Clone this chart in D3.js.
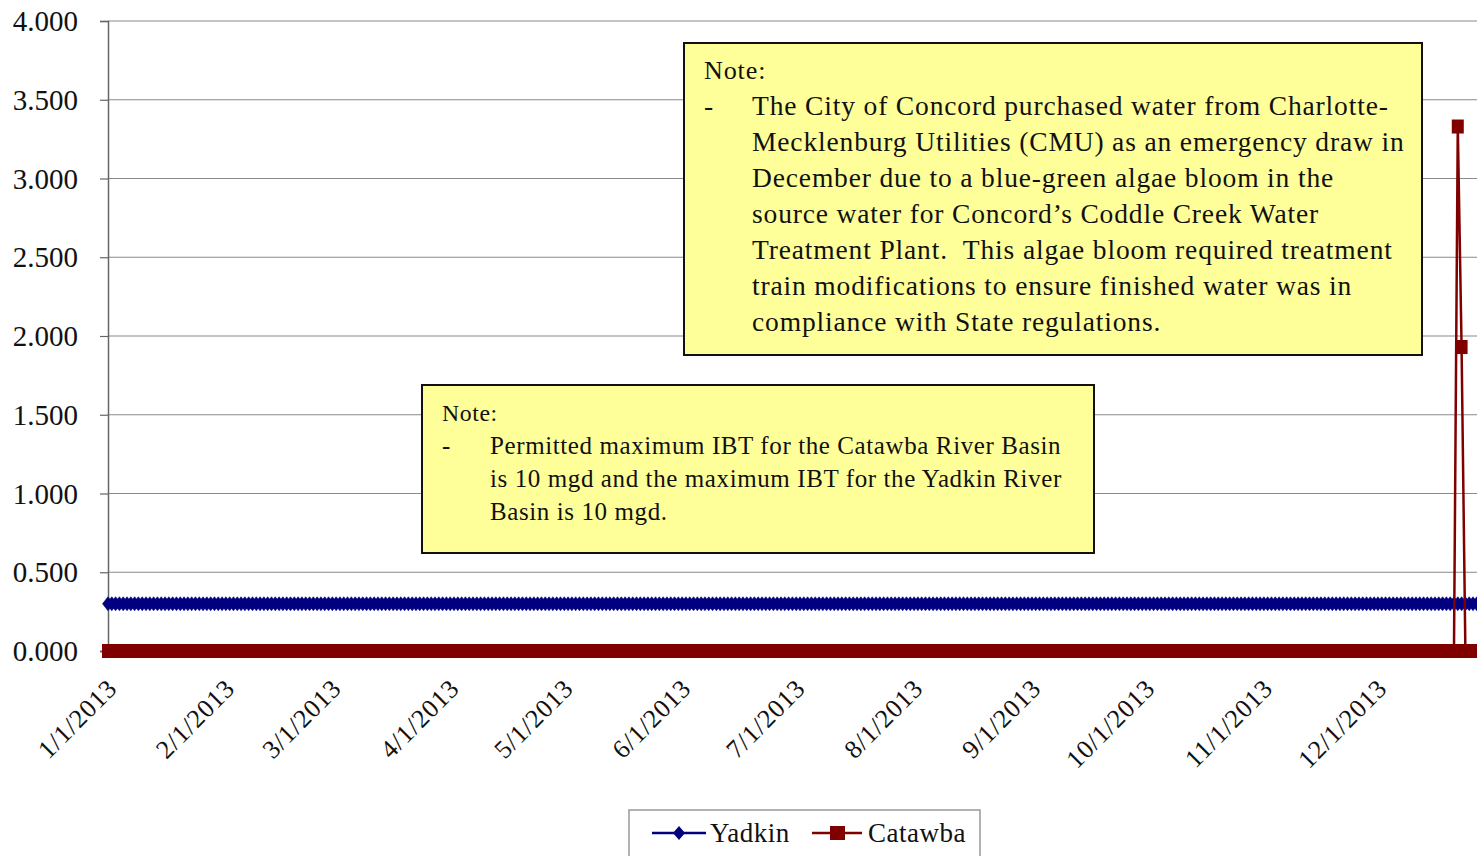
<!DOCTYPE html>
<html>
<head>
<meta charset="utf-8">
<script src="https://cdn.jsdelivr.net/npm/d3@7.9.0/dist/d3.min.js"></script>
<style>
  html, body { margin: 0; padding: 0; background: #fff; }
  svg { display: block; }
  text { font-family: "Book Antiqua", "Palatino Linotype", "Liberation Serif", serif; fill: #111; white-space: pre; }
</style>
</head>
<body>
<svg id="chart" width="1477" height="856"></svg>
<script>
// daily IBT values (mgd) for 2013, one row per month
const startDate = "2013-01-01";

const yadkin = [
  0.3,0.3,0.3,0.3,0.3,0.3,0.3,0.3,0.3,0.3,0.3,0.3,0.3,0.3,0.3,0.3,0.3,0.3,0.3,0.3,0.3,0.3,0.3,0.3,0.3,0.3,0.3,0.3,0.3,0.3,0.3,
  0.3,0.3,0.3,0.3,0.3,0.3,0.3,0.3,0.3,0.3,0.3,0.3,0.3,0.3,0.3,0.3,0.3,0.3,0.3,0.3,0.3,0.3,0.3,0.3,0.3,0.3,0.3,0.3,
  0.3,0.3,0.3,0.3,0.3,0.3,0.3,0.3,0.3,0.3,0.3,0.3,0.3,0.3,0.3,0.3,0.3,0.3,0.3,0.3,0.3,0.3,0.3,0.3,0.3,0.3,0.3,0.3,0.3,0.3,0.3,
  0.3,0.3,0.3,0.3,0.3,0.3,0.3,0.3,0.3,0.3,0.3,0.3,0.3,0.3,0.3,0.3,0.3,0.3,0.3,0.3,0.3,0.3,0.3,0.3,0.3,0.3,0.3,0.3,0.3,0.3,
  0.3,0.3,0.3,0.3,0.3,0.3,0.3,0.3,0.3,0.3,0.3,0.3,0.3,0.3,0.3,0.3,0.3,0.3,0.3,0.3,0.3,0.3,0.3,0.3,0.3,0.3,0.3,0.3,0.3,0.3,0.3,
  0.3,0.3,0.3,0.3,0.3,0.3,0.3,0.3,0.3,0.3,0.3,0.3,0.3,0.3,0.3,0.3,0.3,0.3,0.3,0.3,0.3,0.3,0.3,0.3,0.3,0.3,0.3,0.3,0.3,0.3,
  0.3,0.3,0.3,0.3,0.3,0.3,0.3,0.3,0.3,0.3,0.3,0.3,0.3,0.3,0.3,0.3,0.3,0.3,0.3,0.3,0.3,0.3,0.3,0.3,0.3,0.3,0.3,0.3,0.3,0.3,0.3,
  0.3,0.3,0.3,0.3,0.3,0.3,0.3,0.3,0.3,0.3,0.3,0.3,0.3,0.3,0.3,0.3,0.3,0.3,0.3,0.3,0.3,0.3,0.3,0.3,0.3,0.3,0.3,0.3,0.3,0.3,0.3,
  0.3,0.3,0.3,0.3,0.3,0.3,0.3,0.3,0.3,0.3,0.3,0.3,0.3,0.3,0.3,0.3,0.3,0.3,0.3,0.3,0.3,0.3,0.3,0.3,0.3,0.3,0.3,0.3,0.3,0.3,
  0.3,0.3,0.3,0.3,0.3,0.3,0.3,0.3,0.3,0.3,0.3,0.3,0.3,0.3,0.3,0.3,0.3,0.3,0.3,0.3,0.3,0.3,0.3,0.3,0.3,0.3,0.3,0.3,0.3,0.3,0.3,
  0.3,0.3,0.3,0.3,0.3,0.3,0.3,0.3,0.3,0.3,0.3,0.3,0.3,0.3,0.3,0.3,0.3,0.3,0.3,0.3,0.3,0.3,0.3,0.3,0.3,0.3,0.3,0.3,0.3,0.3,
  0.3,0.3,0.3,0.3,0.3,0.3,0.3,0.3,0.3,0.3,0.3,0.3,0.3,0.3,0.3,0.3,0.3,0.3,0.3,0.3,0.3,0.3,0.3,0.3,0.3,0.3,0.3,0.3,0.3,0.3,0.3
];

const catawba = [
  0,0,0,0,0,0,0,0,0,0,0,0,0,0,0,0,0,0,0,0,0,0,0,0,0,0,0,0,0,0,0,
  0,0,0,0,0,0,0,0,0,0,0,0,0,0,0,0,0,0,0,0,0,0,0,0,0,0,0,0,
  0,0,0,0,0,0,0,0,0,0,0,0,0,0,0,0,0,0,0,0,0,0,0,0,0,0,0,0,0,0,0,
  0,0,0,0,0,0,0,0,0,0,0,0,0,0,0,0,0,0,0,0,0,0,0,0,0,0,0,0,0,0,
  0,0,0,0,0,0,0,0,0,0,0,0,0,0,0,0,0,0,0,0,0,0,0,0,0,0,0,0,0,0,0,
  0,0,0,0,0,0,0,0,0,0,0,0,0,0,0,0,0,0,0,0,0,0,0,0,0,0,0,0,0,0,
  0,0,0,0,0,0,0,0,0,0,0,0,0,0,0,0,0,0,0,0,0,0,0,0,0,0,0,0,0,0,0,
  0,0,0,0,0,0,0,0,0,0,0,0,0,0,0,0,0,0,0,0,0,0,0,0,0,0,0,0,0,0,0,
  0,0,0,0,0,0,0,0,0,0,0,0,0,0,0,0,0,0,0,0,0,0,0,0,0,0,0,0,0,0,
  0,0,0,0,0,0,0,0,0,0,0,0,0,0,0,0,0,0,0,0,0,0,0,0,0,0,0,0,0,0,0,
  0,0,0,0,0,0,0,0,0,0,0,0,0,0,0,0,0,0,0,0,0,0,0,0,0,0,0,0,0,0,
  0,0,0,0,0,0,0,0,0,0,0,0,0,0,0,0,0,0,0,0,0,3.33,1.93,0,0,0,0,0,0,0,0
];

const xTickLabels = ["1/1/2013","2/1/2013","3/1/2013","4/1/2013","5/1/2013","6/1/2013",
                     "7/1/2013","8/1/2013","9/1/2013","10/1/2013","11/1/2013","12/1/2013"];
const yTicks = [0, 0.5, 1, 1.5, 2, 2.5, 3, 3.5, 4];

const note1 = [
  "The City of Concord purchased water from Charlotte-",
  "Mecklenburg Utilities (CMU) as an emergency draw in",
  "December due to a blue-green algae bloom in the",
  "source water for Concord\u2019s Coddle Creek Water",
  "Treatment Plant.  This algae bloom required treatment",
  "train modifications to ensure finished water was in",
  "compliance with State regulations."
];
const note2 = [
  "Permitted maximum IBT for the Catawba River Basin",
  "is 10 mgd and the maximum IBT for the Yadkin River",
  "Basin is 10 mgd."
];

const parse = d3.timeParse("%Y-%m-%d");
const day0 = parse(startDate);
const yad = yadkin.map((v, i) => ({ date: d3.timeDay.offset(day0, i), value: v }));
const cat = catawba.map((v, i) => ({ date: d3.timeDay.offset(day0, i), value: v }));
const tickDates = xTickLabels.map(d3.timeParse("%m/%d/%Y"));

const svg = d3.select("#chart");
const x = d3.scaleTime()
  .domain([day0, d3.timeDay.offset(day0, 364)])
  .range([108, 1492]);
const y = d3.scaleLinear().domain([0, 4]).range([651, 21]);

// gridlines
svg.append("g")
  .selectAll("line")
  .data(yTicks.filter(d => d > 0))
  .join("line")
  .attr("x1", 108).attr("x2", 1477)
  .attr("y1", d => y(d)).attr("y2", d => y(d))
  .attr("stroke", "#8a8a8a").attr("stroke-width", 1.2);

// y axis
const yAxis = svg.append("g")
  .attr("transform", "translate(108,0)")
  .call(d3.axisLeft(y).tickValues(yTicks).tickFormat(d3.format(".3f")).tickSize(8).tickPadding(22));
yAxis.select(".domain").attr("stroke", "#666").attr("stroke-width", 1.5);
yAxis.selectAll(".tick line").attr("stroke", "#666").attr("stroke-width", 1.2);
yAxis.selectAll("text").attr("font-size", 29).attr("font-family", null).attr("fill", "#111").attr("dy", "0.33em");

// x axis
const xAxis = svg.append("g")
  .attr("transform", "translate(0,651)")
  .call(d3.axisBottom(x).tickValues(tickDates).tickFormat((d, i) => xTickLabels[i]).tickSize(7));
xAxis.select(".domain").attr("stroke", "#666").attr("stroke-width", 1.5).attr("d", "M100,0.5H1477");
xAxis.selectAll(".tick line").attr("stroke", "#666");
xAxis.selectAll("text")
  .attr("font-size", 26).attr("font-family", null).attr("fill", "#111")
  .attr("letter-spacing", 0.8)
  .attr("text-anchor", "end")
  .attr("y", 0).attr("dy", 0)
  .attr("transform", "translate(10,39) rotate(-45)");

// series
const line = d3.line().x(d => x(d.date)).y(d => y(d.value));

svg.append("path").datum(yad)
  .attr("fill", "none").attr("stroke", "#000080").attr("stroke-width", 2.5)
  .attr("d", line);
svg.append("g").selectAll("path")
  .data(yad)
  .join("path")
  .attr("transform", d => `translate(${x(d.date)},${y(d.value)})`)
  .attr("d", "M0,-7L5.5,0L0,7L-5.5,0Z")
  .attr("fill", "#000080").attr("stroke", "#000080").attr("stroke-width", 0.6);

svg.append("path").datum(cat)
  .attr("fill", "none").attr("stroke", "#800000").attr("stroke-width", 2.5)
  .attr("d", line);
svg.append("g").selectAll("rect")
  .data(cat)
  .join("rect")
  .attr("x", d => x(d.date) - 6).attr("y", d => y(d.value) - 7)
  .attr("width", 12).attr("height", 14)
  .attr("fill", "#800000");

// note boxes
function noteBox(bx, by, bw, bh, lines, fs, ls, lh, indent, firstY) {
  const g = svg.append("g");
  g.append("rect")
    .attr("x", bx).attr("y", by).attr("width", bw).attr("height", bh)
    .attr("fill", "#ffff99").attr("stroke", "#111").attr("stroke-width", 2);
  g.append("text").attr("x", bx + 20).attr("y", firstY)
    .attr("font-size", fs * 0.95).attr("letter-spacing", ls).text("Note:");
  g.append("text").attr("x", bx + 20).attr("y", firstY + lh).attr("font-size", fs).text("-");
  g.selectAll("text.line")
    .data(lines)
    .join("text")
    .attr("class", "line")
    .attr("x", bx + indent)
    .attr("y", (d, i) => firstY + lh * (i + 1))
    .attr("font-size", fs)
    .attr("letter-spacing", ls)
    .text(d => d);
}
noteBox(684, 43, 738, 312, note1, 27.5, 0.85, 36, 68, 79);
noteBox(422, 385, 672, 168, note2, 25, 0.6, 33, 68, 421);

// legend
const leg = svg.append("g");
leg.append("rect").attr("x", 629).attr("y", 810).attr("width", 351).attr("height", 60)
  .attr("fill", "#fff").attr("stroke", "#999").attr("stroke-width", 1.5);
leg.append("line").attr("x1", 652).attr("x2", 706).attr("y1", 833).attr("y2", 833)
  .attr("stroke", "#000080").attr("stroke-width", 2.5);
leg.append("path").attr("transform", "translate(679,833)").attr("d", "M0,-7L6,0L0,7L-6,0Z").attr("fill", "#000080");
leg.append("text").attr("x", 710).attr("y", 842).attr("font-size", 27).attr("letter-spacing", 0.5).text("Yadkin");
leg.append("line").attr("x1", 812).attr("x2", 862).attr("y1", 833).attr("y2", 833)
  .attr("stroke", "#800000").attr("stroke-width", 2.5);
leg.append("rect").attr("x", 830).attr("y", 826).attr("width", 15).attr("height", 14).attr("fill", "#800000");
leg.append("text").attr("x", 868).attr("y", 842).attr("font-size", 27).attr("letter-spacing", 0.5).text("Catawba");
</script>
</body>
</html>
